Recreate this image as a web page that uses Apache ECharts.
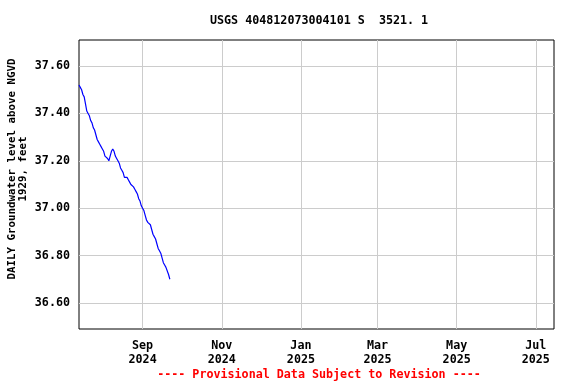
<!DOCTYPE html>
<html>
<head>
<meta charset="utf-8">
<script src="https://cdn.jsdelivr.net/npm/echarts@6/dist/echarts.min.js"></script>
<style>
  html, body { margin: 0; padding: 0; background: #fff; }
  #grafico { width: 576px; height: 384px; }
</style>
</head>
<body>
<div id="grafico"></div>
<script>
// daily groundwater level, starting 2024-07-14
var startDate = '2024-07-14';
var levels = [
  37.52, 37.51, 37.50, 37.48, 37.47, 37.44, 37.41, 37.40, 37.39, 37.37,
  37.36, 37.34, 37.33, 37.31, 37.29, 37.28, 37.27, 37.26, 37.25, 37.24,
  37.22, 37.22, 37.21, 37.20, 37.22, 37.24, 37.25, 37.24, 37.22, 37.21,
  37.20, 37.19, 37.17, 37.16, 37.15, 37.13, 37.13, 37.13, 37.12, 37.11,
  37.10, 37.10, 37.09, 37.08, 37.07, 37.06, 37.04, 37.03, 37.01, 37.00,
  36.99, 36.97, 36.95, 36.94, 36.94, 36.93, 36.91, 36.89, 36.88, 36.87,
  36.85, 36.83, 36.82, 36.81, 36.79, 36.77, 36.76, 36.75, 36.75, 36.72,
  36.70
];
var xTicks = ['2024-09-01', '2024-11-01', '2025-01-01', '2025-03-01', '2025-05-01', '2025-07-01'];
var yTicks = [36.6, 36.8, 37.0, 37.2, 37.4, 37.6];
var monthNames = ['Jan', 'Feb', 'Mar', 'Apr', 'May', 'Jun', 'Jul', 'Aug', 'Sep', 'Oct', 'Nov', 'Dec'];

var day = 24 * 3600 * 1000;
var t0 = Date.parse(startDate + 'T00:00:00Z');
var seriesData = levels.map(function (v, i) { return [t0 + i * day, v]; });
var xTickValues = xTicks.map(function (s) { return Date.parse(s + 'T00:00:00Z'); });

var font = '"DejaVu Sans Mono", monospace';

var chartDom = document.getElementById('grafico');
var myChart = echarts.init(chartDom);

var option = {
  animation: false,
  title: {
    text: 'USGS 404812073004101 S  3521. 1',
    left: 205,
    top: 10,
    textStyle: { fontFamily: font, fontWeight: 'bold', fontSize: 11.7, color: '#000' }
  },
  grid: {
    left: 79, right: 22, top: 40, bottom: 55,
    outerBoundsMode: 'none',
    containLabel: false,
    show: true, borderColor: '#000', borderWidth: 1
  },
  xAxis: {
    type: 'value',
    min: Date.parse('2024-07-14T00:00:00Z'),
    max: Date.parse('2025-07-15T00:00:00Z'),
    axisLine: { show: false },
    axisTick: { show: false, customValues: xTickValues },
    axisLabel: {
      customValues: xTickValues,
      fontFamily: font, fontWeight: 'bold', fontSize: 11.7, color: '#000',
      lineHeight: 14, margin: 10,
      formatter: function (v) {
        var d = new Date(v);
        return monthNames[d.getUTCMonth()] + '\n' + d.getUTCFullYear();
      }
    },
    splitLine: { show: true, lineStyle: { color: '#cccccc', width: 1 } }
  },
  yAxis: {
    type: 'value',
    min: 36.49,
    max: 37.71,
    axisLine: { show: false },
    axisTick: { show: false, customValues: yTicks },
    axisLabel: {
      customValues: yTicks,
      fontFamily: font, fontWeight: 'bold', fontSize: 11.7, color: '#000', margin: 9,
      formatter: function (v) { return v.toFixed(2); }
    },
    splitLine: { show: true, lineStyle: { color: '#cccccc', width: 1 } }
  },
  graphic: [{
    type: 'text',
    x: 18,
    y: 169,
    rotation: Math.PI / 2,
    style: {
      text: 'DAILY Groundwater level above NGVD\n1929, feet',
      fontFamily: font, fontWeight: 'bold', fontSize: 10.8, fill: '#000',
      lineHeight: 11, align: 'center', verticalAlign: 'middle'
    }
  }, {
    type: 'text',
    x: 319,
    y: 369,
    style: {
      text: '---- Provisional Data Subject to Revision ----',
      fontFamily: font, fontWeight: 'bold', fontSize: 11.7, fill: '#ff0000',
      align: 'center'
    }
  }],
  series: [{
    type: 'line',
    data: seriesData,
    showSymbol: false,
    lineStyle: { color: '#0000ff', width: 1.2 }
  }]
};

option && myChart.setOption(option);
</script>
</body>
</html>
